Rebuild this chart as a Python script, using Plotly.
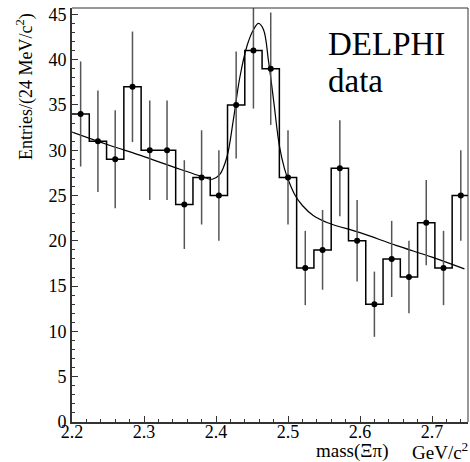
import plotly.graph_objects as go

# Histogram data (bin width 24 MeV)
bin_centers = [2.212, 2.236, 2.260, 2.284, 2.308, 2.332, 2.356, 2.380, 2.404, 2.428,
               2.452, 2.476, 2.500, 2.524, 2.548, 2.572, 2.596, 2.620, 2.644, 2.668,
               2.692, 2.716, 2.740]
counts = [34, 31, 29, 37, 30, 30, 24, 27, 25, 35, 41, 39, 27, 17, 19, 28, 20, 13, 18, 16, 22, 17, 25]
errors = [5.8, 5.6, 5.4, 6.1, 5.5, 5.5, 4.9, 5.2, 5.0, 5.9, 6.4, 6.2, 5.2, 4.1, 4.4, 5.3,
          4.5, 3.6, 4.2, 4.0, 4.7, 4.1, 5.0]
bin_width = 0.024

# Fit curve
fit_x = [2.200, 2.250, 2.300, 2.350, 2.380, 2.395, 2.405, 2.415, 2.424, 2.433, 2.443,
         2.452, 2.459, 2.466, 2.473, 2.480, 2.488, 2.495, 2.501, 2.510, 2.520, 2.535,
         2.555, 2.600, 2.650, 2.700, 2.745]
fit_y = [32.0, 30.6, 29.3, 27.9, 27.1, 26.8, 27.3, 29.2, 33.3, 38.0, 41.5,
         43.3, 44.0, 43.3, 39.8, 35.5, 30.5, 28.0, 26.6, 25.0, 23.9, 22.8,
         22.0, 20.9, 19.5, 18.2, 16.9]

x_ticks = [2.2, 2.3, 2.4, 2.5, 2.6, 2.7]
x_tick_labels = ["2.2", "2.3", "2.4", "2.5", "2.6", "2.7"]
y_ticks = [0, 5, 10, 15, 20, 25, 30, 35, 40, 45]

FONT = "Liberation Serif, Times New Roman, serif"

# step outline from bin edges
edges = [c - bin_width / 2 for c in bin_centers] + [bin_centers[-1] + bin_width / 2]
step_y = counts + [counts[-1]]

fig = go.Figure()
fig.add_trace(go.Scatter(x=edges, y=step_y, mode="lines", line_shape="hv",
                         line=dict(color="black", width=1.5), hoverinfo="skip"))
fig.add_trace(go.Scatter(x=fit_x, y=fit_y, mode="lines", line_shape="spline",
                         line=dict(color="black", width=1.2), hoverinfo="skip"))
fig.add_trace(go.Scatter(x=bin_centers, y=counts, mode="markers",
                         marker=dict(color="black", size=6),
                         error_y=dict(type="data", array=errors, visible=True,
                                      color="#555555", thickness=1.5, width=0)))

fig.update_layout(
    width=470, height=462,
    margin=dict(l=72, r=2, t=8, b=40),
    paper_bgcolor="white", plot_bgcolor="white",
    showlegend=False,
    font=dict(family=FONT, color="black", size=16),
    xaxis=dict(range=[2.2, 2.75], tickvals=x_ticks, ticktext=x_tick_labels,
               ticks="inside", ticklen=6, tickwidth=1, tickcolor="#333",
               minor=dict(dtick=0.02, tick0=2.2, ticks="inside", ticklen=3, tickcolor="#333"),
               showline=True, linewidth=2, linecolor="#333", showgrid=False, zeroline=False,
               ticklabelstandoff=-8,
               tickfont=dict(family=FONT, size=18)),
    yaxis=dict(range=[0, 45.7], tickvals=y_ticks,
               ticks="inside", ticklen=6, tickwidth=1, tickcolor="#333",
               minor=dict(dtick=1, tick0=0, ticks="inside", ticklen=3, tickcolor="#333"),
               showline=True, linewidth=2, linecolor="#333", showgrid=False, zeroline=False,
               tickfont=dict(family=FONT, size=18)),
    shapes=[
        dict(type="line", xref="paper", yref="paper", x0=0, x1=1, y0=1, y1=1,
             line=dict(color="#333", width=1)),
        dict(type="line", xref="paper", yref="paper", x0=1, x1=1, y0=0, y1=1,
             line=dict(color="#333", width=1)),
    ],
    annotations=[
        dict(text="DELPHI", xref="paper", yref="paper", x=(326 - 72) / 396, y=1 - (44 - 8) / 414,
             xanchor="left", yanchor="middle", showarrow=False, font=dict(family=FONT, size=33)),
        dict(text="data", xref="paper", yref="paper", x=(326 - 72) / 396, y=1 - (81 - 8) / 414,
             xanchor="left", yanchor="middle", showarrow=False, font=dict(family=FONT, size=33)),
        dict(text="Entries/(24 MeV/c<sup>2</sup>)", xref="paper", yref="paper",
             x=(25.5 - 72) / 396, y=1 - (86.5 - 8) / 414, textangle=-90,
             xanchor="center", yanchor="middle", showarrow=False, font=dict(family=FONT, size=18)),
        dict(text="mass(Ξπ)", xref="paper", yref="paper",
             x=(352 - 72) / 396, y=1 - (451 - 8) / 414,
             xanchor="center", yanchor="middle", showarrow=False, font=dict(family=FONT, size=19)),
        dict(text="GeV/c<sup>2</sup>", xref="paper", yref="paper",
             x=(470 - 72) / 396, y=1 - (451 - 8) / 414,
             xanchor="right", yanchor="middle", showarrow=False, font=dict(family=FONT, size=19)),
    ],
)

fig.write_html("out.html", config={"displayModeBar": False},
               post_script="document.body.style.margin='0';document.body.style.overflow='hidden';")
